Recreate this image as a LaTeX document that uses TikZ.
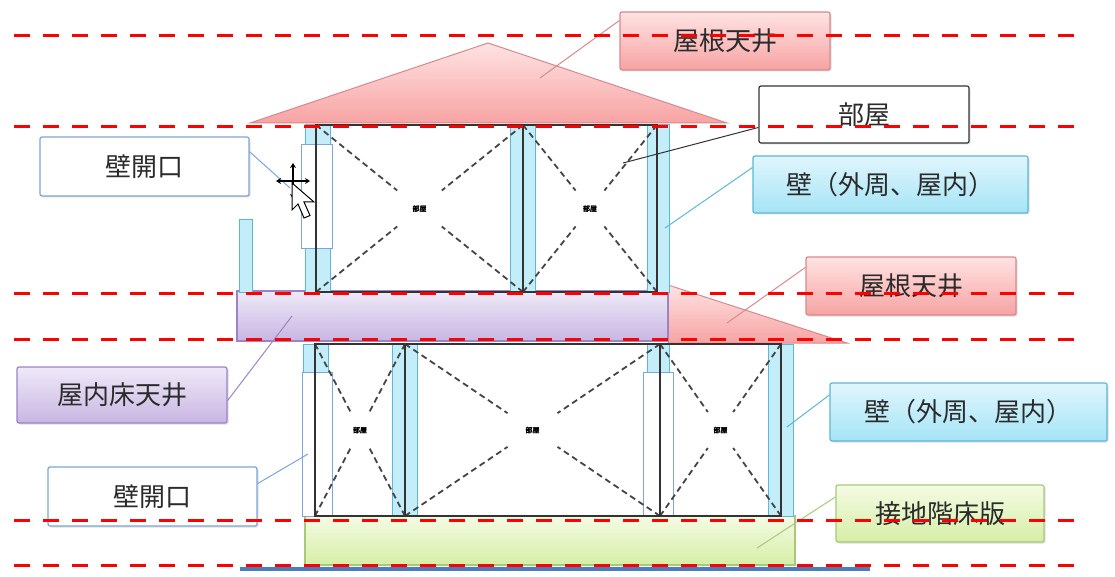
\documentclass[tikz,border=0pt]{standalone}
\usepackage{fontspec}
\newfontfamily\jp{Noto Sans CJK JP}
\newfontfamily\jpheavy[FakeBold=2.5]{Noto Sans CJK JP}
\usetikzlibrary{shadows,calc,arrows.meta}

\definecolor{dashred}{HTML}{FF0000}
\definecolor{roofTop}{HTML}{FFE3E3}
\definecolor{roofBot}{HTML}{F7A3A3}
\definecolor{roofEdge}{HTML}{D9898C}
\definecolor{floorTop}{HTML}{EFE9F8}
\definecolor{floorBot}{HTML}{C8B6E2}
\definecolor{floorEdge}{HTML}{9C84C4}
\definecolor{wallTop}{HTML}{E0F6FD}
\definecolor{wallBot}{HTML}{A5E4F6}
\definecolor{wallEdge}{HTML}{5CB8D6}
\definecolor{wallFill}{HTML}{C2EDF9}
\definecolor{groundTop}{HTML}{F4FBE4}
\definecolor{groundBot}{HTML}{D6EEA6}
\definecolor{groundEdge}{HTML}{A9C97A}
\definecolor{openEdge}{HTML}{7DA5DA}
\definecolor{baseBlue}{HTML}{4A7EBB}
\definecolor{ink}{HTML}{2B2B2B}
\definecolor{roomLine}{HTML}{333333}
\definecolor{diagGray}{HTML}{454545}

\tikzset{
  tag/.style={draw, rounded corners=2pt, line width=1.2pt, inner sep=0pt,
    text=ink, font=\jp\fontsize{26}{28}\selectfont,
    drop shadow={shadow xshift=1.5pt, shadow yshift=-1.5pt, opacity=0.25}},
  pinktag/.style={tag, draw=roofEdge, top color=roofTop, bottom color=roofBot},
  bluetag/.style={tag, draw=wallEdge, top color=wallTop, bottom color=wallBot},
  purpletag/.style={tag, draw=floorEdge, top color=floorTop, bottom color=floorBot},
  greentag/.style={tag, draw=groundEdge, top color=groundTop, bottom color=groundBot},
  whitetag/.style={tag, draw=openEdge, fill=white},
  roomtag/.style={tag, draw=roomLine, fill=white},
  lead/.style={line width=1pt},
  column/.style={draw=wallEdge, fill=wallFill, line width=1pt},
  opening/.style={draw=openEdge, fill=white, line width=1pt},
  diag/.style={draw=diagGray, line width=1.8pt, dash pattern=on 6pt off 4pt},
  roomname/.style={inner sep=0pt, outer sep=0pt, minimum width=50pt,
    minimum height=36pt, font=\jpheavy\fontsize{7}{8}\selectfont, text=black},
  level/.style={draw=dashred, line width=3pt, dash pattern=on 16pt off 13pt},
}

% one room: outline, crossed diagonals and the small name in the middle
\newcommand\roomcell[6]{%
  \coordinate (#1-nw) at (#2,#3);
  \coordinate (#1-ne) at (#4,#3);
  \coordinate (#1-sw) at (#2,#5);
  \coordinate (#1-se) at (#4,#5);
  \node[roomname] (#1) at ($(#1-nw)!0.5!(#1-se)$) {部屋};
  \foreach \c in {nw,ne,sw,se} \draw[diag] (#1-\c) -- (#1);
  \draw[roomLine, line width=#6] (#1-nw) rectangle (#1-se);
}

\begin{document}
\begin{tikzpicture}[x=1pt,y=-1pt]
\useasboundingbox (0,0) rectangle (1115,577);
\fill[white] (0,0) rectangle (1115,577);

% roofs
\path[draw=roofEdge, line width=1pt, top color=roofTop, bottom color=roofBot]
  (250,123) -- (488,43) -- (727,123) -- cycle;
\path[draw=roofEdge, line width=1pt, top color=roofTop, bottom color=roofBot]
  (668,285) -- (847,343) -- (668,343) -- cycle;

% intermediate floor slab and ground slab
\path[draw=floorEdge, line width=1.2pt, top color=floorTop, bottom color=floorBot]
  (237,291) rectangle (668,341);
\path[draw=groundEdge, line width=1.2pt, top color=groundTop, bottom color=groundBot]
  (305,516) rectangle (795,565);
\draw[baseBlue, line width=4pt] (240,569) -- (870,569);

% wall columns
\draw[column] (305,125) rectangle (330,292);
\draw[column] (510,125) rectangle (535,292);
\draw[column] (647,125) rectangle (669,292);
\draw[column] (239,220) rectangle (252,292);
\draw[column] (303,344) rectangle (328,516);
\draw[column] (392,344) rectangle (417,516);
\draw[column] (647,344) rectangle (669,516);
\draw[column] (768,344) rectangle (793,516);

% wall openings
\draw[opening] (301,145) rectangle (332,248);
\draw[opening] (302,372) rectangle (332,516);
\draw[opening] (643,372) rectangle (673,516);

% rooms
\roomcell{upA}{316}{125}{523}{292}{1.8pt}
\roomcell{upB}{523}{125}{657}{292}{1.8pt}
\roomcell{loA}{315}{344}{405}{516}{2.4pt}
\roomcell{loB}{405}{344}{660}{516}{2.4pt}
\roomcell{loC}{660}{344}{781}{516}{2.4pt}

% labels
\node[pinktag, minimum width=210pt, minimum height=58pt] (roofTopLbl) at (725,41) {屋根天井};
\node[roomtag, minimum width=210pt, minimum height=57pt] (roomLbl) at (864,114.5) {部屋};
\node[bluetag, minimum width=275pt, minimum height=57pt] (wallTopLbl) at (890.5,184.5) {壁（外周、屋内）};
\node[whitetag, minimum width=209pt, minimum height=59pt] (openTopLbl) at (144.5,166.5) {壁開口};
\node[pinktag, minimum width=210pt, minimum height=58pt] (roofMidLbl) at (911,286) {屋根天井};
\node[purpletag, minimum width=210pt, minimum height=56pt] (floorLbl) at (122,395) {屋内床天井};
\node[bluetag, minimum width=277pt, minimum height=58pt] (wallLowLbl) at (968.5,412) {壁（外周、屋内）};
\node[whitetag, minimum width=209pt, minimum height=59pt] (openLowLbl) at (152.5,496.5) {壁開口};
\node[greentag, minimum width=208pt, minimum height=57pt] (groundLbl) at (940,513.5) {接地階床版};

% leader ends
\coordinate (roofTopPt) at (540,78);
\coordinate (roomPt) at (623,163);
\coordinate (wallTopPt) at (665,228);
\coordinate (openTopPt) at (290,188);
\coordinate (roofMidPt) at (727,323);
\coordinate (floorPt) at (292,316);
\coordinate (wallLowPt) at (787,427);
\coordinate (openLowPt) at (308,454);
\coordinate (groundPt) at (757,548);

% leaders
\draw[lead, roofEdge] (roofTopLbl.169) -- (roofTopPt);
\draw[lead, roomLine] (roomLbl.187) -- (roomPt);
\draw[lead, wallEdge] (wallTopLbl.173) -- (wallTopPt);
\draw[lead, openEdge] (openTopLbl.8) -- (openTopPt);
\draw[lead, roofEdge] (roofMidLbl.170) -- (roofMidPt);
\draw[lead, floorEdge] (floorLbl.357) -- (floorPt);
\draw[lead, wallEdge] (wallLowLbl.173) -- (wallLowPt);
\draw[lead, openEdge] (openLowLbl.7) -- (openLowPt);
\draw[lead, groundEdge] (groundLbl.171) -- (groundPt);

% mouse cursor with move arrows
\draw[black, line width=1.3pt, {Stealth[length=5pt,width=6pt]}-{Stealth[length=5pt,width=6pt]}] (276,181) -- (310,181);
\draw[black, line width=1.3pt, {Stealth[length=5pt,width=6pt]}-{Stealth[length=5pt,width=6pt]}] (293,163) -- (293,199);
\draw[black, fill=white, line width=1pt, line join=miter]
  (292,183) -- (292,210) -- (298,204) -- (304,218) -- (310,215.5) -- (304,202) -- (314,202) -- cycle;

% level lines
\foreach \y in {36,127,293,339,520,565}
  \draw[level] (14,\y) -- (1082,\y);
\end{tikzpicture}
\end{document}
